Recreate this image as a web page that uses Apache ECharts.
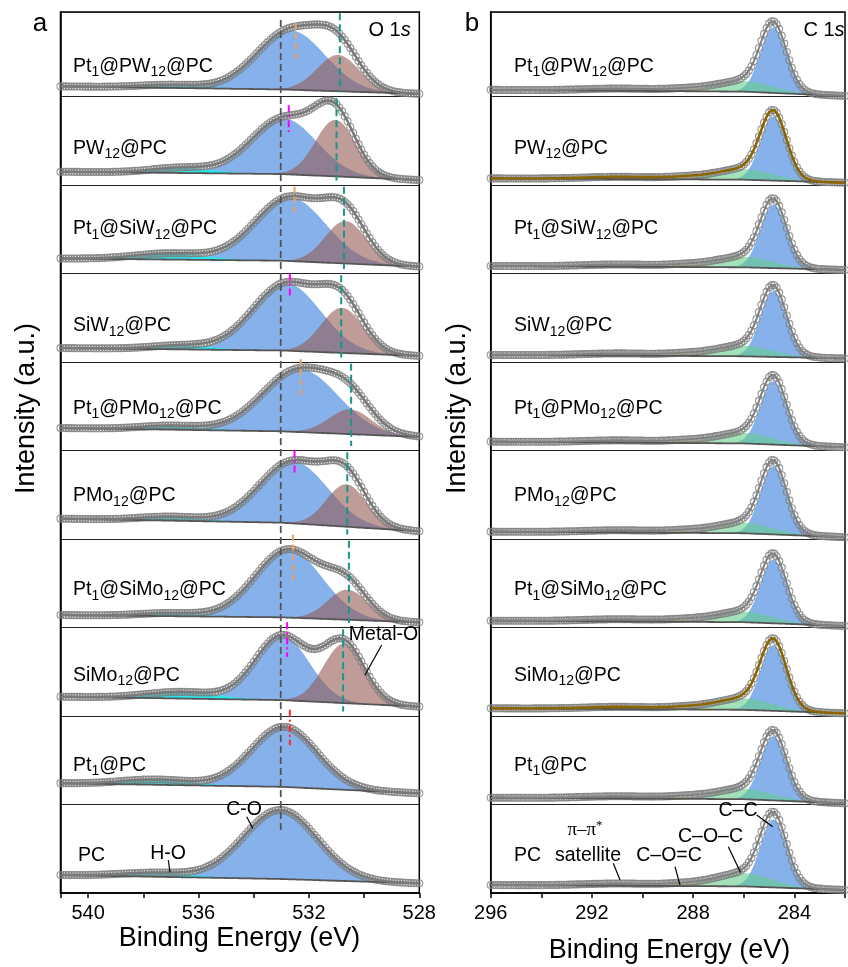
<!DOCTYPE html>
<html><head><meta charset="utf-8">
<script src="https://cdn.jsdelivr.net/npm/echarts@6/dist/echarts.min.js"></script>
<style>html,body{margin:0;padding:0;background:#fff}#c{width:848px;height:967px}</style>
</head><body><div id="c"></div>
<script>
// ---- samples (top to bottom) ----
const samples = ['Pt1@PW12@PC','PW12@PC','Pt1@SiW12@PC','SiW12@PC','Pt1@PMo12@PC','PMo12@PC','Pt1@SiMo12@PC','SiMo12@PC','Pt1@PC','PC'];

// ---- O 1s: background (strip units) at 541, 533, 528 eV ----
const oBg541 = [0.115, 0.15, 0.17, 0.158, 0.254, 0.23, 0.141, 0.218, 0.24, 0.203];
const oBg533 = [0.08, 0.124, 0.145, 0.13, 0.217, 0.185, 0.115, 0.18, 0.2, 0.158];
const oBg528 = [0.03, 0.056, 0.077, 0.068, 0.153, 0.087, 0.058, 0.105, 0.126, 0.109];
// C-O component: centre (eV), height, FWHM (eV)
const oCOc = [532.65, 532.9, 532.67, 532.8, 532.3, 532.55, 532.73, 532.97, 532.9, 533.03];
const oCOa = [0.67, 0.63, 0.72, 0.76, 0.71, 0.70, 0.77, 0.73, 0.68, 0.78];
const oCOw = [2.9, 2.8, 3.0, 2.9, 3.2, 2.9, 2.85, 2.3, 2.8, 3.14];
// Metal-O component
const oMOc = [530.94, 531.04, 530.67, 530.8, 530.5, 530.64, 530.6, 530.73, 530, 530];
const oMOa = [0.41, 0.64, 0.48, 0.51, 0.28, 0.48, 0.34, 0.67, 0, 0];
const oMOw = [1.8, 1.7, 1.75, 1.8, 1.8, 1.7, 1.7, 1.75, 1, 1];
// H-O component
const oHOc = [537, 536.6, 537, 536.6, 537, 537, 537, 536.6, 537.5, 537.5];
const oHOa = [0.035, 0.06, 0.07, 0.045, 0.045, 0.045, 0.035, 0.075, 0.06, 0.045];
const oHOw = [2.6, 2.6, 3, 2.6, 2.6, 2.6, 2.6, 3, 3, 3];
// reference markers
const oRefCO = 533.02;                                  // grey dashed line (PC C-O)
const oMetalMark = [530.88, 531.0, 530.73, 530.83, 530.47, 530.61, 530.55, 530.76];
const oPeakMark = [532.48, 532.73, 532.52, 532.69, 532.30, 532.52, 532.58, 532.79, 532.69];
const oPeakTop = [0.83, 0.90, 0.98, 1.0, 1.03, 1.0, 1.05, 1.06, 1.07];
const oPeakBot = [0.39, 0.60, 0.64, 0.73, 0.58, 0.72, 0.50, 0.67, 0.67];

// ---- C 1s: background at 296, 286, 282 eV ----
const cBg296 = [0.075, 0.075, 0.085, 0.08, 0.1, 0.083, 0.077, 0.087, 0.077, 0.09];
const cBg286 = [0.055, 0.06, 0.07, 0.065, 0.08, 0.065, 0.06, 0.07, 0.06, 0.075];
const cBg282 = [0.006, 0.026, 0.04, 0.04, 0.036, 0.02, 0.017, 0.03, 0.013, 0.034];
// C-C
const cCCc = [284.83, 284.83, 284.83, 284.83, 284.83, 284.83, 284.83, 284.83, 284.83, 284.83];
const cCCa = [0.742, 0.729, 0.721, 0.745, 0.718, 0.773, 0.723, 0.746, 0.728, 0.77];
const cCCw = [1.2, 1.2, 1.2, 1.2, 1.2, 1.2, 1.2, 1.2, 1.2, 1.2];
// C-O-C
const cCOCc = [286.0, 286.0, 286.0, 286.0, 286.0, 286.0, 286.0, 286.0, 286.0, 286.0];
const cCOCa = [0.12, 0.12, 0.12, 0.12, 0.12, 0.12, 0.12, 0.13, 0.12, 0.15];
const cCOCw = [2.6, 2.6, 2.6, 2.6, 2.6, 2.6, 2.6, 2.6, 2.6, 2.6];
// C-O=C
const cCODc = [288.3, 288.3, 288.3, 288.3, 288.3, 288.3, 288.3, 288.3, 288.3, 288.3];
const cCODa = [0.02, 0.02, 0.02, 0.02, 0.02, 0.02, 0.02, 0.02, 0.02, 0.02];
const cCODw = [1.8, 1.8, 1.8, 1.8, 1.8, 1.8, 1.8, 1.8, 1.8, 1.8];
// pi-pi* satellite
const cPIc = [290.8, 290.8, 290.8, 290.8, 290.8, 290.8, 290.8, 290.8, 290.8, 290.8];
const cPIa = [0.025, 0.025, 0.025, 0.025, 0.025, 0.025, 0.025, 0.025, 0.025, 0.025];
const cPIw = [3.5, 3.5, 3.5, 3.5, 3.5, 3.5, 3.5, 3.5, 3.5, 3.5];
const cFitOlive = [false, true, false, false, false, false, false, true, false, false];

// tick labels
const oTicks = [540, 536, 532, 528];
const cTicks = [296, 292, 288, 284];

// ---- helpers ----
const oE = []; for (let i = 0; i <= 130; i++) oE.push(+(528 + i * 0.1).toFixed(2));
const cE = []; for (let i = 0; i <= 140; i++) cE.push(+(282 + i * 0.1).toFixed(2));
function gauss(E, c, a, w) { if (!a) return 0; const s = w / 2.3548; return a * Math.exp(-(E - c) * (E - c) / (2 * s * s)); }
function bgAt(E, ks, vs) {
  if (E <= ks[0]) return vs[0];
  for (let j = 1; j < ks.length; j++) if (E <= ks[j]) { const t = (E - ks[j - 1]) / (ks[j] - ks[j - 1]); return vs[j - 1] + t * (vs[j] - vs[j - 1]); }
  return vs[vs.length - 1];
}
const BLUE = '#86b1ea', BROWN = 'rgba(150,90,85,0.6)', CYAN = 'rgb(45,228,235)';
const GREEN = 'rgba(100,205,140,0.6)', YELLOW = 'rgba(220,190,40,0.7)', PURPLE = 'rgba(170,120,210,0.75)';
const series = [];
function area(gi, Es, base, vals, color) {
  const pts = Es.map((e, i) => [e, base[i], vals[i]]);
  series.push({ type: 'custom', xAxisIndex: gi, yAxisIndex: gi, silent: true, clip: true,
    data: [[Es[0], base[0]]],
    renderItem: function (params, api) {
      const poly = [];
      for (let i = 0; i < pts.length; i++) poly.push(api.coord([pts[i][0], pts[i][1] + pts[i][2]]));
      for (let i = pts.length - 1; i >= 0; i--) poly.push(api.coord([pts[i][0], pts[i][1]]));
      return { type: 'polygon', shape: { points: poly }, style: { fill: color, stroke: null } };
    } });
}
function line(gi, Es, vals, color, w) {
  series.push({ type: 'line', xAxisIndex: gi, yAxisIndex: gi, data: Es.map((e, i) => [e, vals[i]]), symbol: 'none', lineStyle: { color: color, width: w }, silent: true });
}
function dots(gi, Es, vals, size) {
  series.push({ type: 'scatter', xAxisIndex: gi, yAxisIndex: gi, data: Es.map((e, i) => [e, vals[i]]), symbol: 'circle', symbolSize: size,
    itemStyle: { color: 'rgba(255,255,255,0)', borderColor: '#808080', borderWidth: 1.1 }, silent: true });
}
function vmark(gi, E, y1, y2, color, type, w) {
  series.push({ type: 'line', xAxisIndex: gi, yAxisIndex: gi, data: [[E, y1], [E, y2]], symbol: 'none', z: 5,
    lineStyle: { color: color, width: w, type: type }, silent: true });
}

// ---- panel a ----
for (let t = 0; t < 10; t++) {
  const k = 9 - t;
  const bg = oE.map(e => k + bgAt(e, [528, 533, 541], [oBg528[t], oBg533[t], oBg541[t]]));
  const co = oE.map(e => gauss(e, oCOc[t], oCOa[t], oCOw[t]));
  const mo = oE.map(e => gauss(e, oMOc[t], oMOa[t], oMOw[t]));
  const ho = oE.map(e => gauss(e, oHOc[t], oHOa[t], oHOw[t]));
  const env = oE.map((e, i) => bg[i] + co[i] + mo[i] + ho[i]);
  area(0, oE, bg, co, BLUE);
  if (oMOa[t] > 0) area(0, oE, bg, mo, BROWN);
  line(0, oE, bg, '#555', 1.8);
  area(0, oE, bg, ho, CYAN);
  dots(0, oE, env, 7);
  line(0, oE, env, '#7a7a7a', 2.5);
}
// markers
vmark(0, oRefCO, 9.864, 0.689, '#555', [7, 4], 1.8);
for (let t = 0; t < oMetalMark.length; t++) {
  const k = 9 - t;
  vmark(0, oMetalMark[t], k + (t === 0 ? 0.94 : 0.98), k + 0.05, '#17968a', [7, 4], 2);
}
for (let t = 0; t < oPeakMark.length; t++) {
  const k = 9 - t;
  let col = '#f0a060', ty = [6, 4];
  if (t === 8) { col = '#ff2a2a'; ty = [7, 3, 2, 3]; }
  else if (t % 2 === 1) { col = '#ff00ff'; ty = [7, 3, 2, 3]; }
  vmark(0, oPeakMark[t], k + oPeakTop[t], k + oPeakBot[t], col, ty, 2);
}

// ---- panel b ----
for (let t = 0; t < 10; t++) {
  const k = 9 - t;
  const bg = cE.map(e => k + bgAt(e, [282, 286, 296], [cBg282[t], cBg286[t], cBg296[t]]));
  const cc = cE.map(e => gauss(e, cCCc[t], cCCa[t], cCCw[t]));
  const coc = cE.map(e => gauss(e, cCOCc[t], cCOCa[t], cCOCw[t]));
  const cod = cE.map(e => gauss(e, cCODc[t], cCODa[t], cCODw[t]));
  const pi = cE.map(e => gauss(e, cPIc[t], cPIa[t], cPIw[t]));
  const env = cE.map((e, i) => bg[i] + cc[i] + coc[i] + cod[i] + pi[i]);
  area(1, cE, bg, cc, BLUE);
  area(1, cE, bg, coc, GREEN);
  area(1, cE, bg, cod, YELLOW);
  area(1, cE, bg, pi, PURPLE);
  line(1, cE, bg, '#555', 1.8);
  dots(1, cE, env, 7);
  line(1, cE, env, cFitOlive[t] ? '#8a6500' : '#808080', cFitOlive[t] ? 2.6 : 2);
}

// ---- axes ----
const FONT = 'Liberation Sans';
function xAx(gi, mn, mx, ticks) {
  return { gridIndex: gi, type: 'value', min: mn, max: mx, inverse: true, interval: 2,
    axisLine: { show: true, onZero: false, lineStyle: { color: '#000', width: 1.5 } },
    axisTick: { show: true, length: 5, lineStyle: { color: '#000', width: 1.5 } },
    axisLabel: { margin: 10, fontSize: 20, color: '#000', fontFamily: FONT, formatter: v => (ticks.indexOf(v) >= 0 ? String(v) : '') },
    splitLine: { show: false } };
}
function yAx(gi) {
  return { gridIndex: gi, type: 'value', min: 0, max: 9.955, interval: 1,
    axisLine: { show: true, lineStyle: { color: '#000', width: 1.5 } }, axisTick: { show: false }, axisLabel: { show: false },
    splitLine: { show: true, lineStyle: { color: '#222', width: 1 } } };
}

// ---- text ----
function richName(n) {
  let out = '', last = 0, m; const re = /(\d+)/g;
  while ((m = re.exec(n))) { if (m.index > last) out += '{m|' + n.slice(last, m.index) + '}'; out += '{s|' + m[1] + '}'; last = m.index + m[1].length; }
  if (last < n.length) out += '{m|' + n.slice(last) + '}';
  return out;
}
const RICH = { m: { fontSize: 19.5, fontFamily: FONT, lineHeight: 26, verticalAlign: 'middle', fill: '#000' },
               s: { fontSize: 14, fontFamily: FONT, lineHeight: 9, verticalAlign: 'bottom', fill: '#000' } };
const labelY = [66.5, 148.5, 229, 326, 408.5, 496, 590, 675.5, 765.5, 856];
const graphic = [];
function txt(x, y, text, size, opt) {
  opt = opt || {};
  graphic.push({ type: 'text', x: x, y: y, rotation: opt.rot || 0, silent: true, z: 100,
    style: { text: text, fill: '#000', fontSize: size, fontFamily: opt.family || FONT, fontStyle: opt.style || 'normal',
      align: opt.align || 'center', verticalAlign: 'middle', textAlign: opt.align || 'center', textVerticalAlign: 'middle', rich: opt.rich } });
}
function seg(x1, y1, x2, y2) {
  graphic.push({ type: 'line', silent: true, z: 100, shape: { x1, y1, x2, y2 }, style: { stroke: '#000', lineWidth: 1.2 } });
}
samples.forEach((n, t) => {
  txt(t === 9 ? 78 : 73, labelY[t], richName(n), 19.5, { align: 'left', rich: RICH });
  txt(514, labelY[t], richName(n), 19.5, { align: 'left', rich: RICH });
});
txt(40, 24, 'a', 26); txt(472, 24, 'b', 26);
const RS = { n: { fontSize: 20, fontFamily: FONT, fill: '#000' }, i: { fontSize: 20, fontFamily: FONT, fontStyle: 'italic', fill: '#000' } };
txt(368.5, 30.5, '{n|O 1}{i|s}', 20, { align: 'left', rich: RS });
txt(803.5, 30, '{n|C 1}{i|s}', 20, { align: 'left', rich: RS });
txt(26.5, 408.5, 'Intensity (a.u.)', 27, { rot: Math.PI / 2 });
txt(458, 408.5, 'Intensity (a.u.)', 27, { rot: Math.PI / 2 });
txt(239.5, 939, 'Binding Energy (eV)', 27);
txt(669.5, 950.5, 'Binding Energy (eV)', 27);
// panel a annotations
txt(383.5, 635, 'Metal-O', 19.5); seg(381.7, 645, 365, 675);
txt(244, 810, 'C-O', 19.5); seg(246.7, 816.7, 252.7, 828.3);
txt(168, 854, 'H-O', 19.5); seg(168.3, 860, 170, 872.3);
// panel b annotations
txt(738, 810.5, 'C\u2013C', 19.5); seg(756.7, 815, 772.7, 826.7);
txt(710.5, 836.5, 'C\u2013O\u2013C', 19.5); seg(728.3, 846.7, 740.7, 872.7);
txt(669, 855.5, 'C\u2013O=C', 19.5); seg(675, 866.7, 680, 885);
txt(585, 830.5, '{p|\u03c0\u2013\u03c0}{u|*}', 19, { rich: { p: { fontSize: 19, fontFamily: 'Liberation Serif', lineHeight: 22, verticalAlign: 'middle', fill: '#000' }, u: { fontSize: 13, fontFamily: 'Liberation Serif', lineHeight: 10, verticalAlign: 'top', fill: '#000' } } });
txt(588, 855.5, 'satellite', 19.5); seg(613.3, 863.3, 620, 880);

const chart = echarts.init(document.getElementById('c'), null, { renderer: 'canvas' });
chart.setOption({
  animation: false,
  backgroundColor: '#fff',
  textStyle: { fontFamily: FONT },
  grid: [
    { left: 60.5, top: 12, width: 358.8, height: 881, show: true, borderColor: '#000', borderWidth: 1.5, backgroundColor: 'transparent', containLabel: false },
    { left: 490.7, top: 12, width: 358.4, height: 881, show: true, borderColor: '#000', borderWidth: 1.5, backgroundColor: 'transparent', containLabel: false }
  ],
  xAxis: [xAx(0, 528, 541, oTicks), xAx(1, 282, 296, cTicks)],
  yAxis: [yAx(0), yAx(1)],
  series: series,
  graphic: graphic
});
</script></body></html>
